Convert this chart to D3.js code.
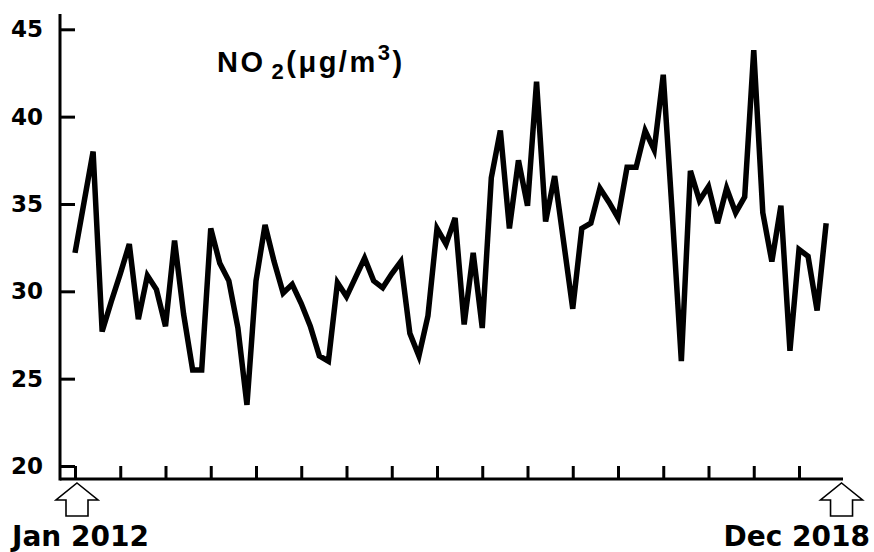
<!DOCTYPE html>
<html>
<head>
<meta charset="utf-8">
<script src="https://cdn.jsdelivr.net/npm/d3@7"></script>
<style>
  html, body { margin: 0; padding: 0; background: #fff; }
  svg { display: block; }
</style>
</head>
<body>
<div id="chart"></div>
<script>
// monthly NO2 means, Jan 2012 .. Dec 2018
const no2 = [
  32.2, 35.1, 38.0, 27.7, 29.4, 31.0, 32.7, 28.4, 30.9, 30.1, 28.0, 32.9,
  28.7, 25.5, 25.5, 33.6, 31.6, 30.6, 27.9, 23.5, 30.6, 33.8, 31.7, 29.9,
  30.4, 29.3, 28.0, 26.3, 26.0, 30.5, 29.7, 30.8, 31.9, 30.6, 30.2, 31.0,
  31.7, 27.6, 26.3, 28.6, 33.6, 32.7, 34.2, 28.1, 32.2, 27.9, 36.5, 39.2,
  33.6, 37.5, 34.9, 42.0, 34.0, 36.6, 32.8, 29.0, 33.6, 33.9, 35.9, 35.1,
  34.2, 37.1, 37.1, 39.2, 38.1, 42.4, 34.4, 26.0, 36.9, 35.2, 36.0, 33.9,
  35.9, 34.5, 35.4, 43.8, 34.5, 31.7, 34.9, 26.6, 32.4, 32.0, 28.9, 33.9
];
const yTicks = [20, 25, 30, 35, 40, 45];
const xTicks = d3.range(0, 81, 5);          // a tick every 5 months
const endLabels = ['Jan 2012', 'Dec 2018'];

const width = 874, height = 552;
const svg = d3.select('#chart').append('svg')
  .attr('width', width)
  .attr('height', height);

const x = d3.scaleLinear().domain([0, 80]).range([75, 799]);
const y = d3.scaleLinear().domain([20, 45]).range([466, 29.3]);

const axisX0 = 60, axisY0 = 479;

// y axis
const yAxis = svg.append('g')
  .attr('transform', `translate(${axisX0},0)`)
  .call(d3.axisLeft(y).tickValues(yTicks).tickSize(-15).tickPadding(17));
yAxis.select('.domain').remove();
yAxis.selectAll('line').attr('stroke', '#000').attr('stroke-width', 3);
yAxis.selectAll('text')
  .attr('fill', '#000')
  .style('font-family', 'DejaVu Sans, sans-serif')
  .style('font-weight', 'bold')
  .style('font-size', '23px');

// x axis ticks (upwards)
const xAxis = svg.append('g')
  .attr('transform', `translate(0,${axisY0})`)
  .call(d3.axisBottom(x).tickValues(xTicks).tickSize(-13).tickFormat(''));
xAxis.select('.domain').remove();
xAxis.selectAll('line').attr('stroke', '#000').attr('stroke-width', 3);

// axis lines
svg.append('line')
  .attr('x1', axisX0).attr('x2', axisX0)
  .attr('y1', 14).attr('y2', axisY0 + 1.5)
  .attr('stroke', '#000').attr('stroke-width', 3);
svg.append('line')
  .attr('x1', axisX0).attr('x2', 843)
  .attr('y1', axisY0).attr('y2', axisY0)
  .attr('stroke', '#000').attr('stroke-width', 3);

// the series
const line = d3.line()
  .x((d, i) => x(i))
  .y(d => y(d));
svg.append('path')
  .datum(no2)
  .attr('d', line)
  .attr('fill', 'none')
  .attr('stroke', '#000')
  .attr('stroke-width', 5.5)
  .attr('stroke-linejoin', 'miter')
  .attr('stroke-miterlimit', 4);

// hollow arrows pointing at the first and last month
function arrow(cx) {
  const top = 483;
  return `M${cx},${top} L${cx + 21},${top + 17} L${cx + 11},${top + 17} L${cx + 11},${top + 33}` +
    ` L${cx - 11},${top + 33} L${cx - 11},${top + 17} L${cx - 21},${top + 17} Z`;
}
[x(0) + 2, x(84.7)].forEach(cx => {
  svg.append('path')
    .attr('d', arrow(cx))
    .attr('fill', '#fff')
    .attr('stroke', '#000')
    .attr('stroke-width', 1.6);
});

svg.append('text')
  .attr('x', 12).attr('y', 546)
  .style('font-family', 'DejaVu Sans, sans-serif')
  .style('font-weight', 'bold')
  .style('font-size', '28px')
  .text(endLabels[0]);
svg.append('text')
  .attr('x', 870).attr('y', 546)
  .attr('text-anchor', 'end')
  .style('font-family', 'DejaVu Sans, sans-serif')
  .style('font-weight', 'bold')
  .style('font-size', '28px')
  .text(endLabels[1]);

// title
const title = svg.append('text')
  .attr('x', 217).attr('y', 72)
  .style('font-family', 'Liberation Sans, Arial, sans-serif')
  .style('font-weight', 'bold')
  .style('font-size', '29px')
  .style('letter-spacing', '2.5px');
title.append('tspan').text('NO');
title.append('tspan').attr('dx', 6).attr('dy', 7).style('font-size', '22px').text('2');
title.append('tspan').attr('dy', -7).text('(μg/m');
title.append('tspan').attr('dy', -12).style('font-size', '22px').text('3');
title.append('tspan').attr('dy', 12).text(')');
</script>
</body>
</html>
